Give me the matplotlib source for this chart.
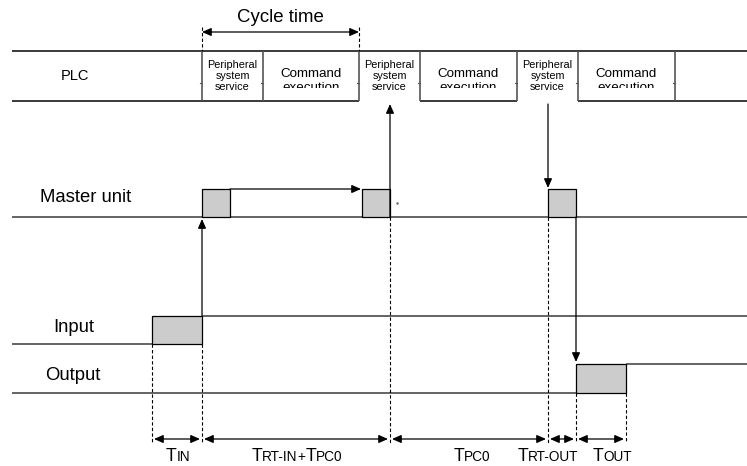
import matplotlib.pyplot as plt
from matplotlib.patches import Rectangle

W, H = 747, 466
FONT = "Liberation Sans"
LINE = "#3a3a3a"

# PLC scan cycle: cell borders along the time axis (px)
plc_edges = [202, 263, 359, 420, 517, 578, 675]
plc_cells = ["Peripheral\nsystem\nservice", "Command\nexecution"] * 3
plc_open = [359, 517]          # service cells drawn without lower border

# signal events
master_boxes = [202, 362, 548]
master_w = 28
input_box = (152, 202)
output_box = (576, 626)

# timing markers and their labels (big / small-caps pieces)
markers = [152, 202, 390, 548, 576, 626]
label_centers = [178, 297, 472, 548, 612]
marker_labels = [
    [("T", 1), ("IN", 0)],
    [("T", 1), ("RT-IN", 0), ("+", 0), ("T", 1), ("PC0", 0)],
    [("T", 1), ("PC0", 0)],
    [("T", 1), ("RT-OUT", 0)],
    [("T", 1), ("OUT", 0)],
]
row_names = ["PLC", "Master unit", "Input", "Output"]

fig = plt.figure(figsize=(W / 100, H / 100), dpi=100)
ax = fig.add_axes([0, 0, 1, 1])
ax.set_xlim(0, W)
ax.set_ylim(H, 0)
ax.axis("off")


def line(xs, ys, c=LINE, lw=1.1, **kw):
    ax.plot(xs, ys, color=c, lw=lw, solid_capstyle="butt", **kw)


def dashed(x, y0, y1):
    ax.plot([x, x], [y0, y1], color="k", lw=0.8, ls=(0, (3, 2)))


def arrow(x0, y0, x1, y1, style="-|>"):
    ax.annotate("", xy=(x1, y1), xytext=(x0, y0),
                arrowprops=dict(arrowstyle=style + ",head_length=0.5,head_width=0.22",
                                color="k", lw=0.9, shrinkA=0, shrinkB=0,
                                mutation_scale=11))


def box(x, top, w, h):
    ax.add_patch(Rectangle((x, top), w, h, facecolor="#cccccc",
                           edgecolor="k", lw=0.9, zorder=3))


# ---- PLC row
top, bot = 51, 101
line([12, W], [top, top], lw=1.4)
xs = [12] + plc_edges + [W]
for a, b in zip(xs[:-1], xs[1:]):
    if a not in plc_open:
        line([a, b], [bot, bot], lw=1.4)
for x in plc_edges:
    line([x, x], [top, bot], c="#555555", lw=1.2)
    ax.plot([x - 2, x], [83, 83], color="#555555", lw=0.8)
ax.text(75, 76, row_names[0], fontsize=10.5, family=FONT, ha="center", va="center")

for a, b, lab in zip(plc_edges[:-1], plc_edges[1:], plc_cells):
    xc = (a + b) / 2
    parts = lab.split("\n")
    if len(parts) == 3:
        for s, y in zip(parts, [65, 76, 87]):
            ax.text(xc, y, s, fontsize=7.8, family=FONT, ha="center", va="center")
    else:
        ax.text(xc, 74, parts[0], fontsize=9.6, family=FONT, ha="center", va="center")
        clip = Rectangle((a, top), b - a, 88 - top, transform=ax.transData)
        t = ax.text(xc, 91, parts[1], fontsize=9.6, family=FONT, ha="center",
                    va="baseline", clip_on=True)
        t.set_clip_path(clip)

# cycle time
dashed(plc_edges[0], 27, top)
dashed(plc_edges[2], 27, top)
arrow(plc_edges[0], 32, plc_edges[2], 32, style="<|-|>")
ax.text((plc_edges[0] + plc_edges[2]) / 2, 17, "Cycle time", fontsize=13.4,
        family=FONT, ha="center", va="center")

# ---- Master unit
my = 217
line([12, W], [my, my])
for x in master_boxes:
    box(x, 189, master_w, my - 189)
ax.text(40, 197, row_names[1], fontsize=13.3, family=FONT, ha="left", va="center")
arrow(master_boxes[0] + master_w, 189, master_boxes[1] - 1, 189)
ax.plot([397], [203], marker=".", ms=1.5, color="#666666")

# ---- Input
iy, ihi = 344, 316
line([12, input_box[0]], [iy, iy])
line([input_box[1], W], [ihi, ihi])
box(input_box[0], ihi, input_box[1] - input_box[0], iy - ihi)
ax.text(53, 328, row_names[2], fontsize=13.3, family=FONT, ha="left", va="center")

# ---- Output
oy, ohi = 393, 364
line([12, output_box[0]], [oy, oy])
line([output_box[1], W], [ohi, ohi])
box(output_box[0], ohi, output_box[1] - output_box[0], oy - ohi)
ax.text(45, 376, row_names[3], fontsize=13.3, family=FONT, ha="left", va="center")

# ---- cause/effect arrows
arrow(input_box[1], ihi, input_box[1], my + 2)
arrow(master_boxes[1] + master_w, my, master_boxes[1] + master_w, 104)
arrow(master_boxes[2], 104, master_boxes[2], 188)
arrow(output_box[0], my, output_box[0], ohi - 2)

# ---- timing markers
starts = [iy, iy, my, my, oy, oy]
for x, y0 in zip(markers, starts):
    dashed(x, y0, 443)
for a, b in zip(markers[:-1], markers[1:]):
    arrow(a + 2, 439, b - 2, 439, style="<|-|>")

r = fig.canvas.get_renderer()
for xc, parts in zip(label_centers, marker_labels):
    ts = [ax.text(0, 461, s, fontsize=12.7 if big else 9.8, family=FONT,
                  ha="left", va="baseline") for s, big in parts]
    ws = [t.get_window_extent(r).width for t in ts]
    x = xc - sum(ws) / 2
    for t, w in zip(ts, ws):
        t.set_x(x)
        x += w

fig.savefig("out.png", dpi=100)
